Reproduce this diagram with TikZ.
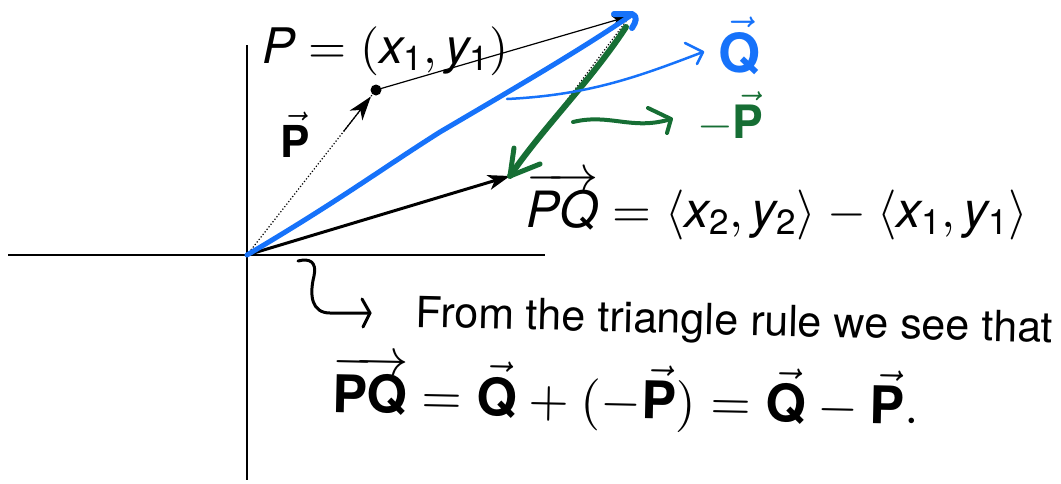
\documentclass[tikz,border=0pt]{standalone}
\usepackage{fontspec}
\setmainfont{TeX Gyre Heros}
\DeclareFontShape{OT1}{cmr}{m}{n}{<->cmr10}{}
\DeclareFontShape{OT1}{cmr}{bx}{n}{<->cmbx10}{}
\DeclareFontShape{OML}{cmm}{m}{it}{<->cmmi10}{}
\DeclareFontShape{OML}{cmm}{b}{it}{<->cmmib10}{}
\DeclareFontShape{OMS}{cmsy}{m}{n}{<->cmsy10}{}
\DeclareFontShape{OMS}{cmsy}{b}{n}{<->cmbsy10}{}
\DeclareFontShape{OMX}{cmex}{m}{n}{<->cmex10}{}
\usetikzlibrary{arrows.meta}
\definecolor{qblue}{RGB}{22,114,250}
\definecolor{pgreen}{RGB}{22,110,52}
\begin{document}
\begin{tikzpicture}[x=1pt,y=-1pt,
  axis/.style={line width=1.1pt},
  thinvec/.style={line width=1.2pt,-{Stealth[length=18pt,width=11pt,inset=4pt]}},
  thickvec/.style={line width=3pt,-{Stealth[length=22pt,width=15pt,inset=6pt]}},
  dotline/.style={line width=1.2pt,dotted},
  bluepen/.style={qblue,line width=5pt,line cap=round,line join=round},
  greenpen/.style={pgreen,line width=6pt,line cap=round,line join=round},
  hand/.style={line width=3pt,line cap=round,line join=round},
  lbl/.style={inner sep=0pt,anchor=base west},
]
\useasboundingbox (0,0) rectangle (1061,483);
% points
\coordinate (O) at (247,255);
\coordinate (P) at (376,90);
\coordinate (Q) at (630,16);
\coordinate (R) at (510,176);
\coordinate (xl) at (8,255);
\coordinate (xr) at (545,255);
\coordinate (yt) at (247,45);
\coordinate (yb) at (247,480);
% axes
\draw[axis] (xl) -- (xr);
\draw[axis] (yt) -- (yb);
% P vector (dotted) with tip before the dot
\draw[dotline] (O) -- (P);
\path (O) -- (P) coordinate[pos=0.75] (Pa) coordinate[pos=0.96] (Pb);
\draw[line width=1.2pt,-{Stealth[length=24pt,width=16pt,inset=7pt]}] (Pa) -- (Pb);
\fill (P) circle (5.5pt);
% P to Q
\draw[thinvec] (P) -- (Q);
% dotted Q to R
\draw[dotline] (Q) -- (R);
% PQ vector
\draw[thickvec] (O) -- (R);
% Q vector (blue)
\draw[bluepen] (O) .. controls (340,200) and (380,170) .. (440,132) .. controls (520,85) and (580,50) .. (Q);
\draw[bluepen,line width=6pt] (Q) ++(-16,-2) -- ++(18,0) .. controls +(6,2) and +(4,-6) .. ++(0,14);
% -P vector (green)
\coordinate (G0) at (626,27);
\coordinate (Ga) at (514,148);
\coordinate (Gb) at (540,164);
\draw[greenpen] (G0) .. controls (590,82) and (545,125) .. (R);
\draw[greenpen,line width=5pt] (Ga) -- (R) -- (Gb);
% blue pointer to Q label
\coordinate (B1) at (507,99);
\coordinate (B2) at (703,52);
\coordinate (B3) at (685,43);
\coordinate (B4) at (697,64);
\draw[qblue,line width=2.5pt,line cap=round] (B1) .. controls (590,95) and (640,76) .. (B2);
\draw[qblue,line width=2.5pt,line cap=round,line join=round] (B3) -- (B2) -- (B4);
% green pointer to -P label
\coordinate (C1) at (573,122);
\coordinate (C2) at (671,119);
\coordinate (C3) at (648,108);
\coordinate (C4) at (667,133);
\draw[pgreen,line width=4pt,line cap=round] (C1) .. controls (610,113) and (632,131) .. (C2);
\draw[pgreen,line width=4pt,line cap=round,line join=round] (C3) -- (C2) -- (C4);
% labels
\node[lbl,font=\fontsize{49}{50}\selectfont] (Plab) at (262,63)
  {$\mathit{P}=(\mathit{x}_{\mathrm{1}},\mathit{y}_{\mathrm{1}})$};
\node[lbl,font=\fontsize{50}{52}\selectfont] (PQlab) at (526,227)
  {$\overrightarrow{\mathit{PQ}}=\langle\mathit{x}_{\mathrm{2}},\mathit{y}_{\mathrm{2}}\rangle-\langle\mathit{x}_{\mathrm{1}},\mathit{y}_{\mathrm{1}}\rangle$};
\node[lbl,font=\fontsize{44}{44}\selectfont] (pvec) at (280,157) {$\vec{\mathbf{P}}$};
\node[lbl,qblue,font=\fontsize{54}{54}\selectfont] (qvec) at (718,72) {$\vec{\mathbf{Q}}$};
\node[lbl,pgreen,font=\fontsize{46}{46}\selectfont] (mpvec) at (697,138) {$-\vec{\mathbf{P}}$};
% hooked arrow and note
\coordinate (H0) at (298,261);
\coordinate (H1) at (330,313);
\coordinate (H2) at (370,313);
\coordinate (H3) at (362,299);
\coordinate (H4) at (363,327);
\draw[hand] (H0) .. controls (310,258) and (317,262) .. (314,276) .. controls (309,296) and (312,313) .. (H1) -- (H2);
\draw[hand] (H3) -- (H2) -- (H4);
\node[lbl,rotate=-1.4,font=\fontsize{43}{43}\selectfont] (rule) at (415,327) {From the triangle rule we see that};
\node[lbl,rotate=-1.2,font=\fontsize{52}{52}\selectfont\bfseries] (eqn) at (332,412)
  {$\overrightarrow{\mathbf{PQ}}=\vec{\mathbf{Q}}+\bigl(-\vec{\mathbf{P}}\bigr)=\vec{\mathbf{Q}}-\vec{\mathbf{P}}.$};
\end{tikzpicture}
\end{document}
